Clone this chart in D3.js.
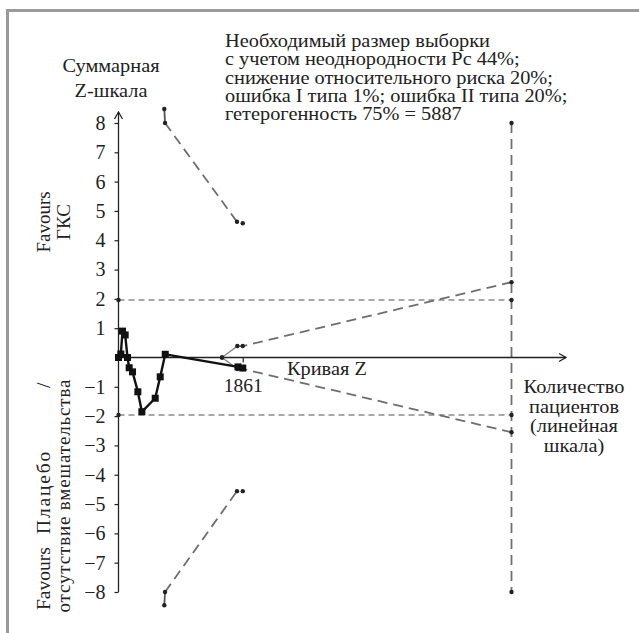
<!DOCTYPE html>
<html>
<head>
<meta charset="utf-8">
<script src="https://cdn.jsdelivr.net/npm/d3@7"></script>
<style>
  html, body { margin: 0; padding: 0; background: #fff; }
</style>
</head>
<body>
<svg id="chart" width="639" height="633"></svg>
<script>
// Cumulative Z-curve (patients accrued, cumulative Z)
const curvePatients = [0, 35, 60, 100, 135, 160, 210, 290, 350, 550, 625, 700, 1790, 1861];
const curveZ        = [0, 0.12, 0.90, 0.77, 0, -0.35, -0.49, -1.17, -1.85, -1.39, -0.66, 0.11, -0.32, -0.36];

// Trial sequential monitoring boundaries (benefit / harm)
const boundaryPatients = [686, 697, 1775, 1861];
const boundaryUpper    = [8.48, 8.0, 4.63, 4.58];
const boundaryLower    = [-8.45, -8.0, -4.56, -4.56];

// Futility (inner wedge) boundaries
const futilityPatients = [1550, 1780, 1861, 5887];
const futilityUpper    = [0, 0.39, 0.39, 2.57];
const futilityLower    = [0, -0.39, -0.39, -2.55];

// Conventional significance level and required information size
const conventionalZ = [1.96, -1.96];
const requiredSize = 5887;
const zLimits = [-8, 8];

const yTickValues = [-8, -7, -6, -5, -4, -3, -2, -1, 1, 2, 3, 4, 5, 6, 7, 8];
const xTickValues = [1861];

const titleLines = [
  "Необходимый размер выборки",
  "с учетом неоднородности Pc 44%;",
  "снижение относительного риска 20%;",
  "ошибка I типа 1%; ошибка II типа 20%;",
  "гетерогенность 75% = 5887"
];
const yTitleLines = ["Суммарная", "Z-шкала"];
const xTitleLines = ["Количество", "пациентов", "(линейная", "шкала)"];
const favourTop = ["Favours", "ГКС"];
const favourBottomWords = ["Favours", "Плацебо", "/"];
const favourBottomSecond = "отсутствие вмешательства";

const FONT = "Liberation Serif";
const FS = 18.5;     // running text size
const SX = 1.1;      // slightly wide setting of the serif face
const INK = "#222";

const svg = d3.select("#chart");

const x = d3.scaleLinear().domain([0, requiredSize]).range([118.5, 511.5]);
const y = d3.scaleLinear().domain(zLimits).range([592, 123]);

function label(sel, size) {
  return sel.attr("font-family", FONT).attr("font-size", size || FS).attr("fill", INK);
}
// horizontal text block, widened a little
function wideText(tx, ty, str, anchor) {
  return label(svg.append("text"))
    .attr("text-anchor", anchor || "start")
    .attr("transform", `translate(${tx},${ty}) scale(${SX},1)`)
    .text(str);
}

// Frame
svg.append("path")
  .attr("d", "M7.5,633 L7.5,10.5 L639,10.5")
  .attr("fill", "none").attr("stroke", "#9a9a9a").attr("stroke-width", 3);

// Conventional boundaries ±1.96
conventionalZ.forEach(z => {
  svg.append("line")
    .attr("x1", x(0)).attr("x2", x(requiredSize))
    .attr("y1", y(z)).attr("y2", y(z))
    .attr("stroke", "#8c8c8c").attr("stroke-width", 1.6)
    .attr("stroke-dasharray", "6,4");
});

// Required information size vertical line
svg.append("line")
  .attr("x1", x(requiredSize)).attr("x2", x(requiredSize))
  .attr("y1", y(zLimits[1])).attr("y2", y(zLimits[0]))
  .attr("stroke", "#6e6e6e").attr("stroke-width", 1.8)
  .attr("stroke-dasharray", "10,6");

const line = d3.line().x(d => x(d[0])).y(d => y(d[1]));

function boundary(ps, zs) {
  const pts = ps.map((p, i) => [p, zs[i]]);
  // short solid cap at the first look, dashed after
  svg.append("path").attr("d", line(pts.slice(0, 2)))
    .attr("fill", "none").attr("stroke", "#555").attr("stroke-width", 1.8);
  svg.append("path").attr("d", line(pts.slice(1)))
    .attr("fill", "none").attr("stroke", "#6e6e6e").attr("stroke-width", 1.8)
    .attr("stroke-dasharray", "10,6");
  return pts;
}
const bu = boundary(boundaryPatients, boundaryUpper);
const bl = boundary(boundaryPatients, boundaryLower);

function futility(ps, zs) {
  const pts = ps.map((p, i) => [p, zs[i]]);
  svg.append("path").attr("d", line(pts.slice(0, 2)))
    .attr("fill", "none").attr("stroke", "#8a8a8a").attr("stroke-width", 1.4);
  svg.append("path").attr("d", line(pts.slice(1)))
    .attr("fill", "none").attr("stroke", "#6e6e6e").attr("stroke-width", 1.8)
    .attr("stroke-dasharray", "10,6");
  return pts;
}
const fu = futility(futilityPatients, futilityUpper);
const fl = futility(futilityPatients, futilityLower);

// Axes
const yAxis = d3.axisLeft(y)
  .tickValues(yTickValues)
  .tickSize(4).tickSizeOuter(0).tickPadding(9)
  .tickFormat(d => d < 0 ? "\u2212" + Math.abs(d) : String(d));
const gy = svg.append("g").attr("transform", `translate(${x(0)},0)`).call(yAxis);
gy.attr("font-family", FONT).attr("font-size", 20);
gy.select(".domain").remove();
gy.selectAll(".tick line").attr("stroke", INK).attr("stroke-width", 1.2);
label(gy.selectAll(".tick text"), 20);

// y axis line with open arrow
svg.append("line")
  .attr("x1", x(0)).attr("x2", x(0))
  .attr("y1", y(zLimits[0])).attr("y2", 112)
  .attr("stroke", INK).attr("stroke-width", 1.3);
svg.append("path")
  .attr("d", `M${x(0) - 4},119 L${x(0)},112 L${x(0) + 4},119`)
  .attr("fill", "none").attr("stroke", INK).attr("stroke-width", 1.3);

const xAxis = d3.axisBottom(x)
  .tickValues(xTickValues).tickSize(5).tickSizeOuter(0).tickPadding(16)
  .tickFormat(d3.format("d"));
const gx = svg.append("g").attr("transform", `translate(0,${y(0)})`).call(xAxis);
gx.attr("font-family", FONT).attr("font-size", 19.5);
gx.select(".domain").remove();
gx.selectAll(".tick line").attr("stroke", INK).attr("stroke-width", 1.2);
label(gx.selectAll(".tick text"), 19.5);

svg.append("line")
  .attr("x1", x(0)).attr("x2", 566)
  .attr("y1", y(0)).attr("y2", y(0))
  .attr("stroke", INK).attr("stroke-width", 1.3);
svg.append("path")
  .attr("d", `M559,${y(0) - 4} L566,${y(0)} L559,${y(0) + 4}`)
  .attr("fill", "none").attr("stroke", INK).attr("stroke-width", 1.3);

// Boundary dots
const dots = [...bu, ...bl, ...fu, ...fl,
  ...conventionalZ.flatMap(z => [[0, z], [requiredSize, z]]),
  [requiredSize, zLimits[1]], [requiredSize, zLimits[0]]];
svg.append("g").selectAll("circle").data(dots).join("circle")
  .attr("cx", d => x(d[0])).attr("cy", d => y(d[1])).attr("r", 2.2)
  .attr("fill", INK);

// Cumulative Z curve
const curve = curvePatients.map((p, i) => [p, curveZ[i]]);
svg.append("path").attr("d", line(curve))
  .attr("fill", "none").attr("stroke", "#111").attr("stroke-width", 2.4);
svg.append("g").selectAll("rect").data(curve).join("rect")
  .attr("x", d => x(d[0]) - 3.5).attr("y", d => y(d[1]) - 3.5)
  .attr("width", 7).attr("height", 7).attr("fill", "#111");

// Texts
titleLines.forEach((t, i) => wideText(225, 47 + i * 18.3, t));
yTitleLines.forEach((t, i) => wideText(111, 72 + i * 25, t, "middle"));
xTitleLines.forEach((t, i) => wideText(574, 393 + i * 19.6, t, "middle"));
wideText(287, 375, "Кривая Z");

// Vertical side captions
favourTop.forEach((t, i) => {
  label(svg.append("text"), 19).attr("text-anchor", "middle")
    .attr("transform", `translate(${49.5 + i * 20},222) rotate(-90)`).text(t);
});

// lower caption: first line justified over a fixed run, words placed along it
const lowStart = 610, lowRun = 228;
const low1 = label(svg.append("text"), 19.5)
  .attr("transform", `translate(49.5,${lowStart}) rotate(-90)`);
low1.append("tspan").attr("x", 0).text(favourBottomWords[0]);
const mid = low1.append("tspan").attr("x", 76).text(favourBottomWords[1]);
const midW = mid.node().getComputedTextLength();
mid.attr("letter-spacing", Math.max(0, (84 - midW) / favourBottomWords[1].length));
low1.append("tspan").attr("x", lowRun - 6).text(favourBottomWords[2]);

label(svg.append("text"), 19).attr("text-anchor", "middle")
  .attr("textLength", 233).attr("lengthAdjust", "spacing")
  .attr("transform", `translate(69.5,496) rotate(-90)`).text(favourBottomSecond);
</script>
</body>
</html>
